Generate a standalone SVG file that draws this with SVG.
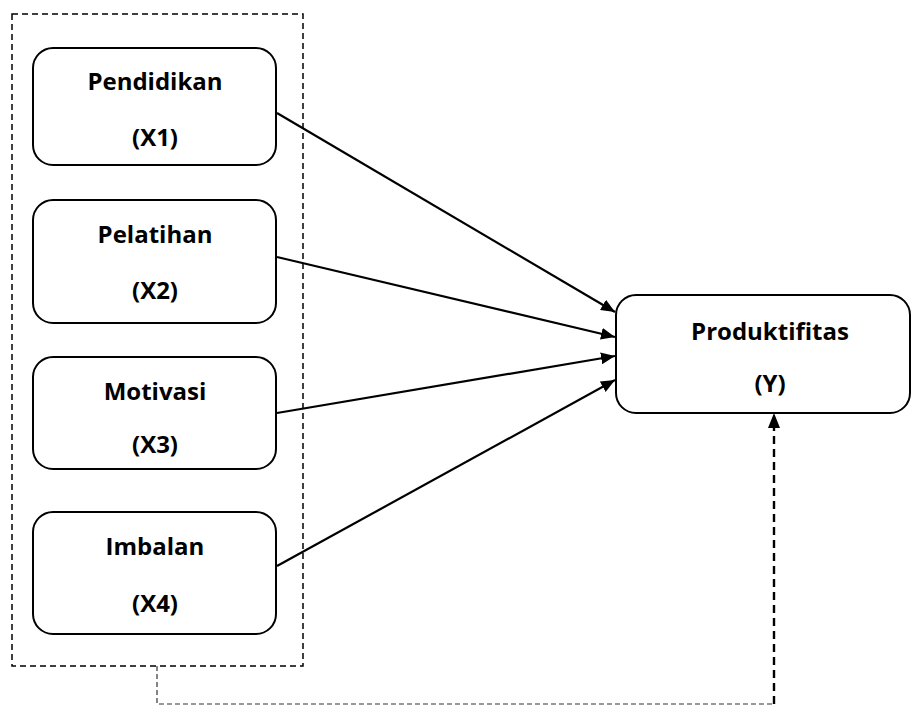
<svg xmlns="http://www.w3.org/2000/svg" width="911" height="706" viewBox="0 0 911 706">
<defs>
<style>
.box{fill:#fff;stroke:#000;stroke-width:2}
.t{font-family:"Open Sans","Liberation Sans",sans-serif;font-weight:700;font-size:24px;fill:#000;text-anchor:middle}
.arr{fill:none;stroke:#000;stroke-width:2.2}
.grp{fill:none;stroke:#000;stroke-width:1.5;stroke-dasharray:6 4}
.dthin{fill:none;stroke:#333;stroke-width:1.2;stroke-dasharray:5 3}
.dthick{fill:none;stroke:#000;stroke-width:2.4;stroke-dasharray:8 5}
</style>
<marker id="ah" viewBox="0 0 14 12" refX="14" refY="6" markerWidth="14" markerHeight="12" markerUnits="userSpaceOnUse" orient="auto">
<path d="M0,0 L14,6 L0,12 Z" fill="#000"/>
</marker>
</defs>
<rect width="911" height="706" fill="#fff"/>
<g id="group-x">
<rect class="grp" x="12" y="14" width="291" height="652"/>
</g>
<g id="connectors">
<line class="arr" x1="277" y1="113" x2="615" y2="312" marker-end="url(#ah)"/>
<line class="arr" x1="277" y1="257" x2="615" y2="337" marker-end="url(#ah)"/>
<line class="arr" x1="277" y1="413" x2="615" y2="356" marker-end="url(#ah)"/>
<line class="arr" x1="277" y1="566" x2="615" y2="380" marker-end="url(#ah)"/>
<polyline class="dthin" points="157,666 157,704 774,704"/>
<line class="dthick" x1="774" y1="704" x2="774" y2="427"/>
<path d="M774,413 L780,428 L768,428 Z" fill="#000"/>
</g>
<g id="x1">
<rect class="box" x="33" y="48" width="243" height="117" rx="20"/>
<text class="t" x="155" y="90">Pendidikan</text>
<text class="t" x="155" y="146">(X1)</text>
</g>
<g id="x2">
<rect class="box" x="33" y="200" width="243" height="123" rx="20"/>
<text class="t" x="155" y="243">Pelatihan</text>
<text class="t" x="155" y="299">(X2)</text>
</g>
<g id="x3">
<rect class="box" x="33" y="357" width="243" height="112" rx="20"/>
<text class="t" x="155" y="400">Motivasi</text>
<text class="t" x="155" y="453">(X3)</text>
</g>
<g id="x4">
<rect class="box" x="33" y="512" width="243" height="122" rx="20"/>
<text class="t" x="155" y="555">Imbalan</text>
<text class="t" x="155" y="612">(X4)</text>
</g>
<g id="y">
<rect class="box" x="616" y="295" width="294" height="118" rx="20"/>
<text class="t" x="770" y="340">Produktifitas</text>
<text class="t" x="770" y="392">(Y)</text>
</g>
</svg>
